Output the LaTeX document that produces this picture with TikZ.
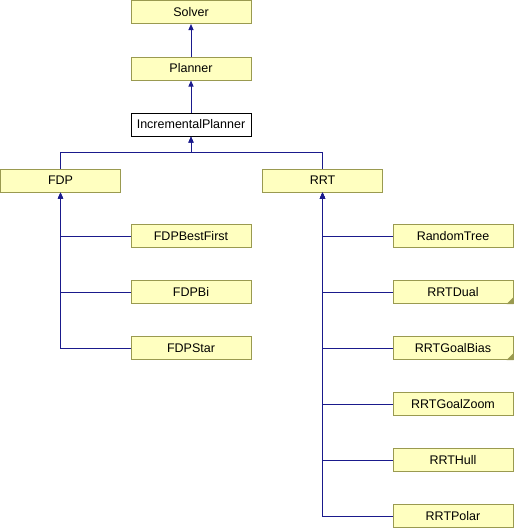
\documentclass[tikz,border=0pt]{standalone}
\usepackage{fontspec}
\setmainfont{Liberation Sans}
\usetikzlibrary{arrows.meta}
\definecolor{boxfill}{HTML}{FFFFC0}
\definecolor{boxline}{HTML}{9A9A50}
\definecolor{edgecol}{HTML}{1A1A8C}
\begin{document}
\begin{tikzpicture}[x=1pt,y=-1pt,
  cls/.style={draw=boxline,fill=boxfill,line width=1pt,minimum width=120pt,minimum height=23pt,inner sep=0pt,font=\fontsize{12.5}{14}\selectfont},
  cur/.style={cls,draw=black,fill=white},
  edge/.style={draw=edgecol,line width=1pt,-{Triangle[width=5pt,length=6pt]}},
  fold/.style={fill=boxline,draw=none}]
\useasboundingbox (0,0) rectangle (514,528);
\node[cls] (solver) at (191,12) {Solver};
\node[cls] (planner) at (191,68.5) {Planner};
\node[cur] (inc) at (191,124.5) {IncrementalPlanner};
\node[cls] (fdp) at (60.5,180.5) {FDP};
\node[cls] (rrt) at (322.5,180.5) {RRT};
\node[cls] (fdpbf) at (191,236) {FDPBestFirst};
\node[cls] (fdpbi) at (191,292) {FDPBi};
\node[cls] (fdpstar) at (191,348) {FDPStar};
\node[cls] (rtree) at (453,236) {RandomTree};
\node[cls] (rrtdual) at (453,292) {RRTDual};
\node[cls] (rrtgb) at (453,348) {RRTGoalBias};
\node[cls] (rrtgz) at (453,404) {RRTGoalZoom};
\node[cls] (rrthull) at (453,460) {RRTHull};
\node[cls] (rrtpolar) at (453,516) {RRTPolar};
\fill[fold] (rrtdual.south east) -- ++(-7,0) -- ++(7,-7) -- cycle;
\fill[fold] (rrtgb.south east) -- ++(-7,0) -- ++(7,-7) -- cycle;
\coordinate (j1) at (191,152);
\draw[edge] (planner.north) -- (solver.south);
\draw[edge] (inc.north) -- (planner.south);
\draw[edge] (fdp.north) |- (j1) -- (inc.south);
\draw[edge] (rrt.north) |- (j1) -- (inc.south);
\foreach \n in {fdpbf,fdpbi,fdpstar}{\draw[edge] (\n.west) -| (fdp.south);}
\foreach \n in {rtree,rrtdual,rrtgb,rrtgz,rrthull,rrtpolar}{\draw[edge] (\n.west) -| (rrt.south);}
\end{tikzpicture}
\end{document}
